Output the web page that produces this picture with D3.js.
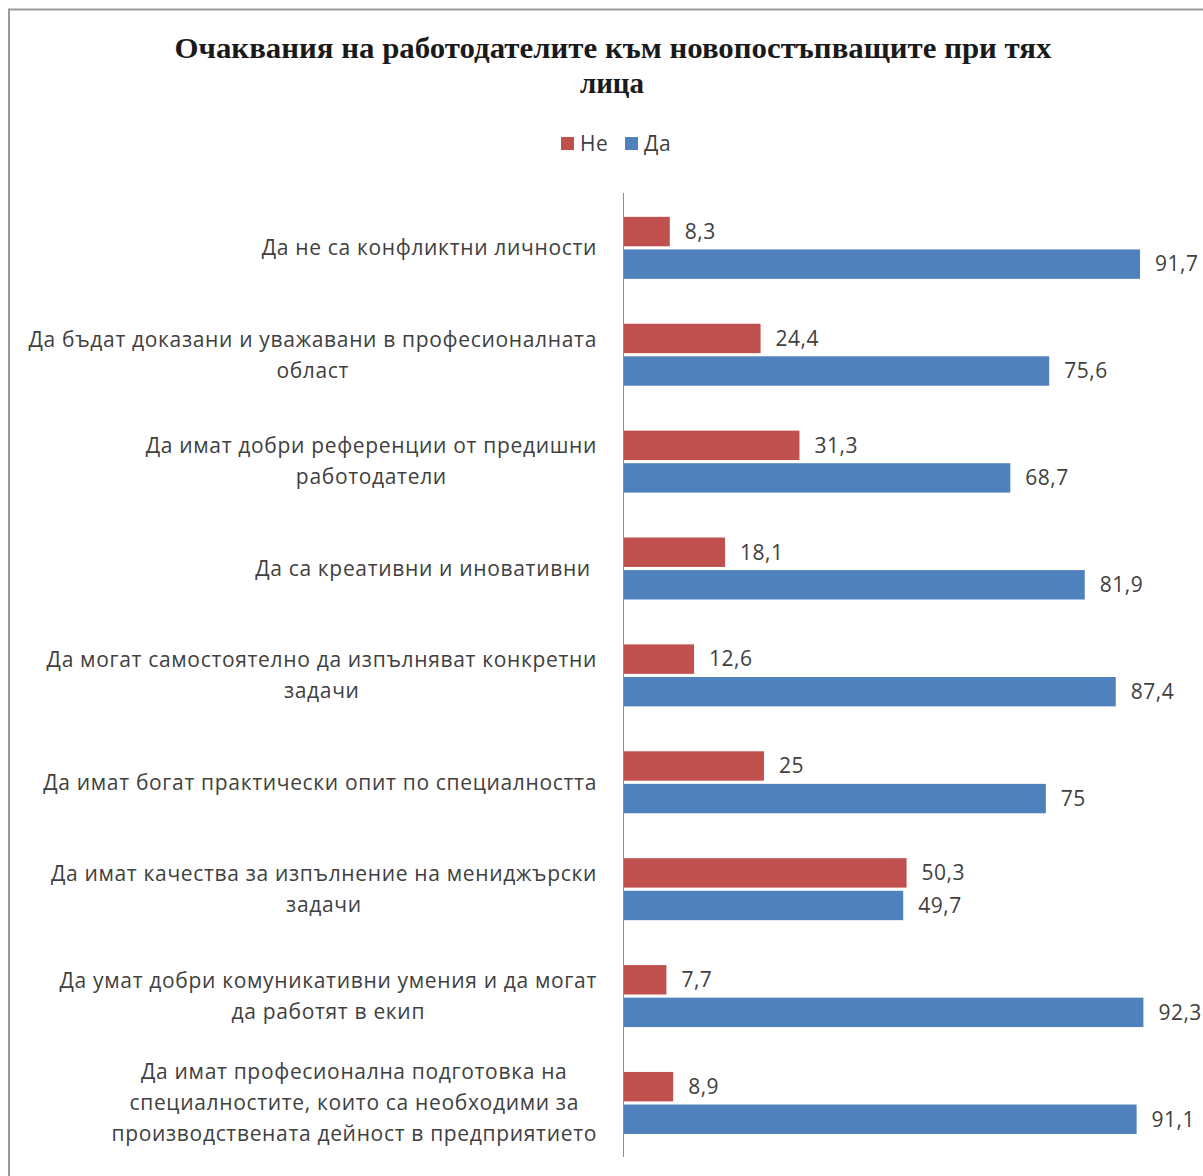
<!DOCTYPE html>
<html>
<head>
<meta charset="utf-8">
<script src="https://cdn.jsdelivr.net/npm/d3@7"></script>
<style>
  html, body { margin: 0; padding: 0; background: #fff; }
  svg { display: block; }
</style>
</head>
<body>
<svg id="chart" width="1203" height="1176"></svg>
<script>
// Survey answers: employers' expectations of new hires (percent)
const titleLines = ["Очаквания на работодателите към новопостъпващите при тях", "лица"];
const categories = [
  "Да не са конфликтни личности",
  "Да бъдат доказани и уважавани в професионалната\nобласт",
  "Да имат добри референции от предишни\nработодатели",
  "Да са креативни и иновативни\u00A0",
  "Да могат самостоятелно да изпълняват конкретни\nзадачи",
  "Да имат богат практически опит по специалността",
  "Да имат качества за изпълнение на мениджърски\nзадачи",
  "Да умат добри комуникативни умения и да могат\nда работят в екип",
  "Да имат професионална подготовка на\nспециалностите, които са необходими за\nпроизводствената дейност в предприятието"
];
const seriesNames = ["Не", "Да"];
const noValues  = [8.3, 24.4, 31.3, 18.1, 12.6, 25, 50.3, 7.7, 8.9];
const yesValues = [91.7, 75.6, 68.7, 81.9, 87.4, 75, 49.7, 92.3, 91.1];
const seriesColors = ["#C0504D", "#4F81BD"];

const svg = d3.select("#chart");
const W = 1203, H = 1176;
const textColor = "#404040";
const sansFont = "'Open Sans', 'Noto Sans', sans-serif";

svg.append("rect").attr("width", W).attr("height", H).attr("fill", "#fff");

// chart frame (cut off at the right and bottom edges)
svg.append("path")
  .attr("d", `M9,${H + 5} V9.5 H${W + 5}`)
  .attr("fill", "none")
  .attr("stroke", "#9a9a9a")
  .attr("stroke-width", 2);

// title
const title = svg.append("g")
  .attr("font-family", "'Liberation Serif', 'Times New Roman', serif")
  .attr("font-weight", "bold")
  .attr("font-size", 29)
  .attr("fill", "#1a1a1a")
  .attr("text-anchor", "middle");
title.append("text").attr("x", 613).attr("y", 58)
  .attr("textLength", 877).attr("lengthAdjust", "spacingAndGlyphs")
  .text(titleLines[0]);
title.append("text").attr("x", 612).attr("y", 93).text(titleLines[1]);

// legend
const legendX = [561, 625];
const legend = svg.append("g").attr("font-family", sansFont).attr("font-size", 21)
  .attr("letter-spacing", 0.6).attr("fill", textColor);
seriesNames.forEach((name, i) => {
  legend.append("rect").attr("x", legendX[i]).attr("y", 137).attr("width", 13).attr("height", 13)
    .attr("fill", seriesColors[i]);
  legend.append("text").attr("x", legendX[i] + 19).attr("y", 151).text(name);
});

// scales
const x = d3.scaleLinear().domain([0, 100]).range([623, 623 + 563.8]);
const y = d3.scaleBand().domain(d3.range(categories.length)).range([194.4, 1156.4]).padding(0);
const bw = y.bandwidth();
const ySeries = d3.scaleBand().domain(seriesNames)
  .range([bw / 2 - 31, bw / 2 + 31]).paddingInner(6 / 62).paddingOuter(0);

const rows = categories.map((c, i) => ({ i, c, values: [noValues[i], yesValues[i]] }));

const groups = svg.append("g").selectAll("g.row").data(rows).join("g")
  .attr("class", "row")
  .attr("transform", d => `translate(0,${y(d.i)})`);

// bars
groups.selectAll("rect.bar")
  .data(d => d.values.map((v, k) => ({ v, k })))
  .join("rect")
  .attr("class", "bar")
  .attr("x", x(0))
  .attr("y", d => ySeries(seriesNames[d.k]))
  .attr("width", d => x(d.v) - x(0))
  .attr("height", ySeries.bandwidth())
  .attr("fill", d => seriesColors[d.k]);

// value labels
groups.selectAll("text.val")
  .data(d => d.values.map((v, k) => ({ v, k })))
  .join("text")
  .attr("class", "val")
  .attr("x", d => x(d.v) + 15)
  .attr("y", d => ySeries(seriesNames[d.k]) + ySeries.bandwidth() / 2)
  .attr("dy", "0.35em")
  .attr("font-family", sansFont)
  .attr("font-size", 21)
  .attr("letter-spacing", 0.5)
  .attr("fill", textColor)
  .text(d => String(d.v).replace(".", ","));

// vertical category axis line
svg.append("line")
  .attr("x1", x(0) + 0.5).attr("x2", x(0) + 0.5)
  .attr("y1", 193).attr("y2", 1157)
  .attr("stroke", "#8c8c8c").attr("stroke-width", 1);

// category labels: lines centred on each other, block right-aligned to the axis
const lineH = 31;
const labelRight = 597;
groups.each(function(d) {
  const lines = d.c.split("\n");
  const t = d3.select(this).append("text")
    .attr("font-family", sansFont)
    .attr("font-size", 21)
    .attr("letter-spacing", 0.67)
    .attr("fill", textColor)
    .attr("text-anchor", "middle")
    .attr("xml:space", "preserve");
  const y0 = bw / 2 - (lines.length - 1) * lineH / 2;
  const spans = lines.map((ln, j) => t.append("tspan").attr("y", y0 + j * lineH).attr("dy", "0.35em").text(ln));
  const maxW = d3.max(spans, s => s.node().getComputedTextLength());
  spans.forEach(s => s.attr("x", labelRight - maxW / 2));
});
</script>
</body>
</html>
